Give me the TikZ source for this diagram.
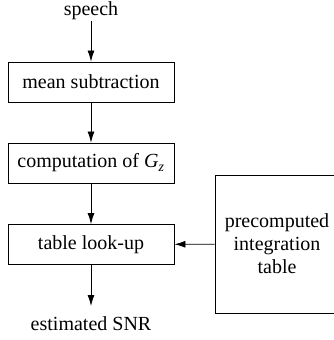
\documentclass[tikz,border=0pt]{standalone}
\usepackage{fontspec}
\setmainfont{Liberation Serif}
\usetikzlibrary{arrows.meta}
\tikzset{   block/.style = {rectangle, draw = black, line width = 0.9pt, fill = white, minimum width = 166pt, minimum height = 40pt, inner sep = 0pt},
            table/.style = {rectangle, draw = black, line width = 0.9pt, fill = white, minimum width = 124pt, minimum height = 138pt, align = center, inner sep = 0pt},
            flow/.style = {line width = 0.8pt, -{Latex[length=11pt,width=7pt]}}}

\begin{document}
\begin{tikzpicture}[x=1pt,y=-1pt,font=\fontsize{20}{24}\selectfont]
                        \useasboundingbox (0,0) rectangle (334,340);
                        \node[anchor=base] (speech) at (91, 15.5) {speech};
                        \node[block] (mean) at (91, 82) {mean subtraction};
                        \node[block] (comp) at (91, 163) {computation of \textit{G}\textsubscript{\textit{z}}};
                        \node[block] (lookup) at (91, 244.5) {table look-up};
                        \node[anchor=base] (snr) at (91, 330) {estimated SNR};
                        \node[table] (pre) at (277, 244) {precomputed\\[-1pt] integration\\[-1pt] table};
                        \draw[flow] (91, 21) -- (mean);
                        \draw[flow] (mean) -- (comp);
                        \draw[flow] (comp) -- (lookup);
                        \draw[flow] (lookup) -- (91, 306);
                        \draw[flow] (pre) -- (lookup);
                      \end{tikzpicture}
\end{document}
